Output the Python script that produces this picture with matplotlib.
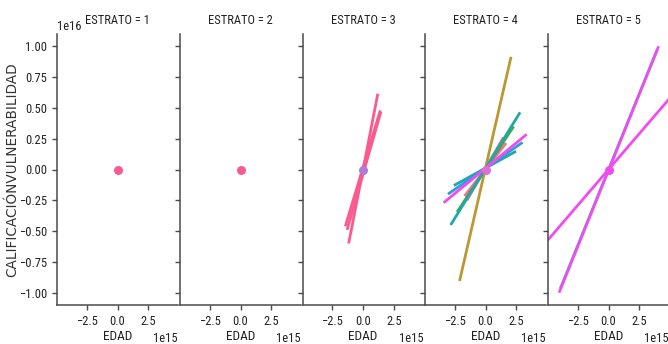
import matplotlib
matplotlib.use("Agg")
import matplotlib.pyplot as plt
from matplotlib import font_manager
from matplotlib.font_manager import FontProperties

# ---- pick a narrow upright font for tick labels / titles ----
def pick_narrow():
    fl = font_manager.fontManager.ttflist

    def upright(f):
        low = f.fname.lower()
        return f.style == "normal" and "italic" not in low and "oblique" not in low \
            and "bold" not in low and f.weight in (400, "normal", "regular")

    for nm in ["Liberation Sans Narrow", "Roboto Condensed", "Open Sans Condensed",
               "Noto Sans Condensed"]:
        for f in fl:
            if f.name == nm and upright(f):
                return f.fname
    for f in fl:
        if f.name in ("DejaVu Sans", "Noto Sans", "Open Sans", "Roboto") and \
                str(f.stretch) in ("condensed", "semi-condensed", "extra-condensed") and upright(f):
            return f.fname
    for f in fl:
        low = f.fname.lower()
        if ("condensed" in low or "narrow" in low) and upright(f) and "semi" not in low \
                and "extra" not in low:
            return f.fname
    return None

fn = pick_narrow()

def fp(size):
    if fn:
        return FontProperties(fname=fn, size=size)
    return FontProperties(family="Liberation Sans", size=size)

# ---- data (x in units of 1e15, y in units of 1e16) ----
estratos = [1, 2, 3, 4, 5]

lines_e3_x = [[-1.43, 1.40], [-1.16, 1.20], [-1.29, 1.45]]
lines_e3_y = [[-0.46, 0.48], [-0.60, 0.615], [-0.49, 0.47]]
lines_e3_c = ["#fb5a8e", "#fb5a8e", "#fb5a8e"]

lines_e4_x = [[-1.70, 1.67], [-1.50, 1.45], [-2.10, 2.07], [-2.30, 2.28], [-2.82, 2.80],
              [-2.56, 2.47], [-3.04, 3.00], [-3.39, 3.33]]
lines_e4_y = [[-0.216, 0.215], [-0.25, 0.26], [-0.905, 0.915], [-0.345, 0.35], [-0.45, 0.464],
              [-0.13, 0.148], [-0.20, 0.22], [-0.27, 0.285]]
lines_e4_c = ["#f77189", "#f77189", "#bb9832", "#3aae3a", "#1fa8a8",
              "#1fa8a8", "#2f9be0", "#f04cf0"]

lines_e5_x = [[-3.90, 3.95], [-4.00, 4.06], [-6.0, 6.0]]
lines_e5_y = [[-0.965, 0.975], [-1.00, 1.00], [-0.70, 0.70]]
lines_e5_c = ["#36b8c0", "#f04cf0", "#f04cf0"]

dots_x = [0.0, 0.0, 0.0, 0.0, 0.0]
dots_y = [0.0, 0.0, 0.0, 0.0, 0.0]
dots_c = ["#fb5a8e", "#fb5a8e", "#b07ad8", "#e070d0", "#f04cf0"]

all_x = [[], [], lines_e3_x, lines_e4_x, lines_e5_x]
all_y = [[], [], lines_e3_y, lines_e4_y, lines_e5_y]
all_c = [[], [], lines_e3_c, lines_e4_c, lines_e5_c]

xticks = [-2.5, 0.0, 2.5]
yticks = [-1.0, -0.75, -0.5, -0.25, 0.0, 0.25, 0.5, 0.75, 1.0]

W, H = 668, 344
fig = plt.figure(figsize=(W / 100, H / 100), dpi=100)

lefts = [57, 180, 302.5, 425, 548]
axw = 121
top, bottom = 34, 305

spine_col = "#4a4a4a"
for i, e in enumerate(estratos):
    ax = fig.add_axes([lefts[i] / W, (H - bottom) / H, axw / W, (bottom - top) / H])
    for xs, ys, c in zip(all_x[i], all_y[i], all_c[i]):
        ax.plot([v * 1e15 for v in xs], [v * 1e16 for v in ys], color=c, lw=2.0,
                solid_capstyle="butt")
    ax.plot([dots_x[i] * 1e15], [dots_y[i] * 1e16], "o", color=dots_c[i], ms=6.5, mec="none")
    ax.set_xlim(-4.9e15, 4.9e15)
    ax.set_ylim(-1.1e16, 1.1e16)
    ax.set_xticks([t * 1e15 for t in xticks])
    ax.set_yticks([t * 1e16 for t in yticks])
    for s in ["top", "right"]:
        ax.spines[s].set_visible(False)
    for s in ["left", "bottom"]:
        ax.spines[s].set_color(spine_col)
        ax.spines[s].set_linewidth(1.1)
    ax.tick_params(colors=spine_col, labelcolor="#222222", length=3.5, width=1.0)
    fig.canvas.draw()
    for lab in ax.get_xticklabels() + ax.get_yticklabels():
        lab.set_fontproperties(fp(9))
    ax.xaxis.get_offset_text().set_fontproperties(fp(9))
    ax.yaxis.get_offset_text().set_fontproperties(fp(9))
    ax.set_title(f"ESTRATO = {e}", fontproperties=fp(9), color="#222222", pad=7, y=1.0)
    ax.set_xlabel("EDAD", fontproperties=fp(9.5), color="#222222", labelpad=2)
    if i == 0:
        ax.set_ylabel("CALIFICACIÓNVULNERABILIDAD", fontsize=9.8, family="DejaVu Sans",
                      color="#333333")
        ax.yaxis.set_label_coords(-0.31, 0.5)
    else:
        ax.tick_params(labelleft=False)
        ax.yaxis.get_offset_text().set_visible(False)

fig.savefig("out.png", dpi=100)
